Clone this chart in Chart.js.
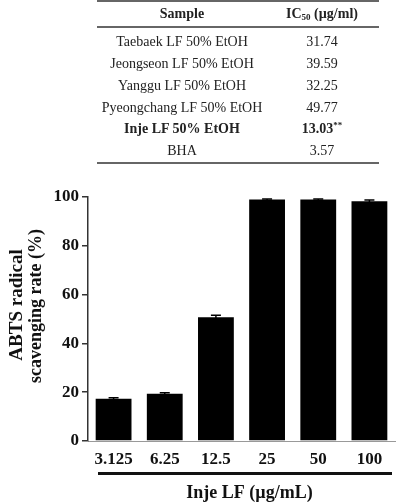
<!DOCTYPE html>
<html>
<head>
<meta charset="utf-8">
<script src="https://cdn.jsdelivr.net/npm/chart.js@4"></script>
<style>
  html, body { margin: 0; padding: 0; background: #fff; }
  #wrap { position: relative; width: 396px; height: 503px; overflow: hidden; }
  #c { position: absolute; left: 0; top: 0; }
  #tbl { position: absolute; left: 97px; top: 0; width: 282px; height: 165px;
         font-family: "Liberation Serif", "Times New Roman", serif; font-size: 14px; color: #222; }
  .hline { position: absolute; left: 0; width: 282px; height: 2px; background: #666; }
  .row { position: absolute; left: 0; width: 282px; height: 20px; line-height: 20px; }
  .c1 { position: absolute; left: 0; width: 170px; text-align: center; white-space: nowrap; }
  .c2 { position: absolute; left: 160px; width: 130px; text-align: center; white-space: nowrap; }
  .b { font-weight: bold; }
  sub { font-size: 9px; vertical-align: -2px; line-height: 0; }
  sup { font-size: 9px; vertical-align: 5px; line-height: 0; }
</style>
</head>
<body>
<div id="wrap">
  <canvas id="c" width="396" height="503"></canvas>
  <div id="tbl"></div>
</div>
<script>
// ---- Table data ----
const tableSamples = ["Taebaek LF 50% EtOH", "Jeongseon LF 50% EtOH", "Yanggu LF 50% EtOH",
                      "Pyeongchang LF 50% EtOH", "Inje LF 50% EtOH", "BHA"];
const tableIC50 = ["31.74", "39.59", "32.25", "49.77", "13.03", "3.57"];
const tableMarks = ["", "", "", "", "**", ""];
const tableBold = [false, false, false, false, true, false];

// ---- Chart data ----
const categories = ["3.125", "6.25", "12.5", "25", "50", "100"];
const scavengingRate = [17.3, 19.4, 50.7, 99.0, 99.0, 98.3];
const errorValues = [0.4, 0.4, 0.8, 0.2, 0.2, 0.5];
const yTicks = [0, 20, 40, 60, 80, 100];
const yTitleLines = ["ABTS radical", "scavenging rate (%)"];
const xTitle = "Inje LF (\u00B5g/mL)";

// ---- Build table ----
(function buildTable() {
  const t = document.getElementById('tbl');
  function line(y) { const d = document.createElement('div'); d.className = 'hline'; d.style.top = y + 'px'; t.appendChild(d); }
  function row(yc, a, b, bold) {
    const r = document.createElement('div'); r.className = 'row' + (bold ? ' b' : '');
    r.style.top = (yc - 10) + 'px';
    const s1 = document.createElement('span'); s1.className = 'c1'; s1.innerHTML = a;
    const s2 = document.createElement('span'); s2.className = 'c2'; s2.innerHTML = b;
    r.appendChild(s1); r.appendChild(s2); t.appendChild(r);
  }
  line(0);
  row(13.5, "Sample", "IC<sub>50</sub> (\u00B5g/ml)", true);
  line(26);
  const y0 = 42.3, step = 21.75;
  tableSamples.forEach((s, i) => {
    const v = tableIC50[i] + (tableMarks[i] ? '<sup>' + tableMarks[i] + '</sup>' : '');
    row(y0 + i * step, s, v, tableBold[i]);
  });
  line(162);
})();

// ---- Plugins ----
const errorBarPlugin = {
  id: 'errorBars',
  afterDatasetsDraw(chart) {
    const ctx = chart.ctx, xs = chart.scales.x, ys = chart.scales.y;
    ctx.save();
    ctx.strokeStyle = '#000';
    ctx.lineWidth = 1.5;
    scavengingRate.forEach((v, i) => {
      const x = xs.getPixelForValue(i);
      const yTop = ys.getPixelForValue(v + errorValues[i]);
      const yBot = ys.getPixelForValue(v - errorValues[i]);
      ctx.beginPath();
      ctx.moveTo(x, yBot); ctx.lineTo(x, yTop);
      ctx.moveTo(x - 5, yTop); ctx.lineTo(x + 5, yTop);
      ctx.stroke();
    });
    ctx.restore();
  }
};

const decorPlugin = {
  id: 'decor',
  afterDraw(chart) {
    const ctx = chart.ctx, area = chart.chartArea;
    ctx.save();
    ctx.fillStyle = '#111';
    ctx.textAlign = 'center';
    ctx.textBaseline = 'middle';
    const yMid = (area.top + area.bottom) / 2 - 14;
    ctx.save();
    ctx.translate(17, yMid);
    ctx.rotate(-Math.PI / 2);
    ctx.font = 'bold 19px "Liberation Serif", serif';
    ctx.fillText(yTitleLines[0], 0, 0);
    ctx.restore();
    ctx.save();
    ctx.translate(36, yMid + 1);
    ctx.rotate(-Math.PI / 2);
    ctx.font = 'bold 18px "Liberation Serif", serif';
    ctx.fillText(yTitleLines[1], 0, 0);
    ctx.restore();
    // thick line under x labels
    ctx.strokeStyle = '#111';
    ctx.lineWidth = 3;
    ctx.beginPath();
    ctx.moveTo(area.left + 10, 473.5);
    ctx.lineTo(area.right - 3, 473.5);
    ctx.stroke();
    // x title
    ctx.font = 'bold 18px "Liberation Serif", serif';
    ctx.fillText(xTitle, (area.left + area.right) / 2 + 8, 493);
    ctx.restore();
  }
};

new Chart(document.getElementById('c'), {
  type: 'bar',
  data: {
    labels: categories,
    datasets: [{
      data: scavengingRate,
      backgroundColor: '#000',
      borderWidth: 0,
      categoryPercentage: 1.0,
      barPercentage: 0.70
    }]
  },
  options: {
    responsive: false,
    animation: false,
    devicePixelRatio: 1,
    layout: { padding: { top: 197, left: 0, right: 1, bottom: 0 } },
    plugins: { legend: { display: false }, tooltip: { enabled: false }, title: { display: false } },
    scales: {
      x: {
        grid: { display: false, drawTicks: false },
        border: { display: true, color: '#999', width: 1 },
        ticks: { color: '#111', padding: 8, maxRotation: 0,
                 font: { family: '"Liberation Serif", serif', size: 17, weight: 'bold' } },
        afterFit(scale) { scale.height = 62; }
      },
      y: {
        min: 0, max: 100,
        afterBuildTicks(scale) { scale.ticks = yTicks.map(v => ({ value: v })); },
        grid: { drawOnChartArea: false, drawTicks: true, tickLength: 6, color: '#333', lineWidth: 1.5 },
        border: { display: true, color: '#333', width: 1.5 },
        ticks: { color: '#111', padding: 3,
                 font: { family: '"Liberation Serif", serif', size: 17, weight: 'bold' } },
        afterFit(scale) { scale.width = 88; }
      }
    }
  },
  plugins: [errorBarPlugin, decorPlugin]
});
</script>
</body>
</html>
